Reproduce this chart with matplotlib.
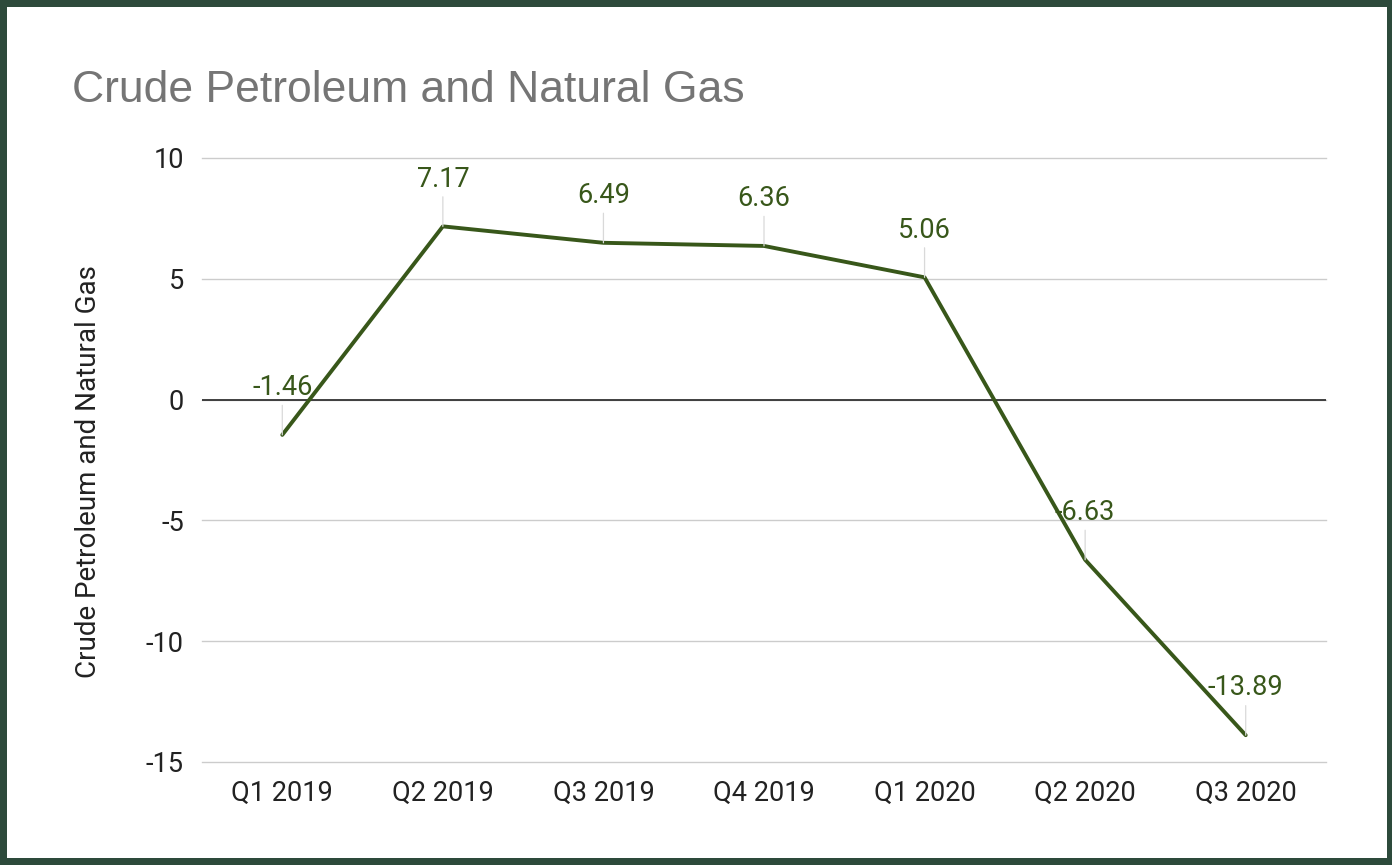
import matplotlib.pyplot as plt
from matplotlib.patches import Rectangle

quarters = ['Q1 2019', 'Q2 2019', 'Q3 2019', 'Q4 2019', 'Q1 2020', 'Q2 2020', 'Q3 2020']
values = [-1.46, 7.17, 6.49, 6.36, 5.06, -6.63, -13.89]
y_ticks = [-15, -10, -5, 0, 5, 10]

GREEN = '#38571a'
W, H = 1392, 865

fig = plt.figure(figsize=(W / 100, H / 100), dpi=100, facecolor='#2d4a3b')
# white card inside the dark green frame
fig.patches.append(Rectangle((7 / W, 7 / H), (W - 12) / W, (H - 14) / H,
                             transform=fig.transFigure, facecolor='white',
                             edgecolor='none', zorder=-5))

ax = fig.add_axes([202 / W, 103 / H, 1124 / W, 604 / H])
ax.set_facecolor('none')

x = list(range(len(quarters)))
ax.plot(x, values, color=GREEN, lw=2.8, solid_capstyle='round', zorder=4)

# data labels with thin leader lines
for xi, v in zip(x, values):
    ax.annotate(f'{v:.2f}', xy=(xi, v), xytext=(0, 34), textcoords='offset points',
                ha='center', va='center', fontsize=19.5, color=GREEN, family='Roboto',
                arrowprops=dict(arrowstyle='-', color='#d9d9d9', lw=0.9,
                                shrinkA=1, shrinkB=0),
                zorder=5)

ax.set_xlim(-0.5, len(quarters) - 0.5)
ax.set_ylim(-15, 10)
ax.set_yticks(y_ticks)
ax.set_yticklabels([str(t) for t in y_ticks])
ax.set_xticks(x)
ax.set_xticklabels(quarters)
ax.grid(axis='y', color='#cccccc', lw=1)
for gl in ax.get_ygridlines():
    gl.set_clip_on(False)
ax.axhline(0, color='#333333', lw=1.3, zorder=3)
for s in ax.spines.values():
    s.set_visible(False)
ax.tick_params(length=0, labelsize=19.5, labelcolor='#222222')
ax.tick_params(axis='y', pad=13)
ax.tick_params(axis='x', pad=13)
for lab in ax.get_xticklabels() + ax.get_yticklabels():
    lab.set_family('Roboto')

fig.text(72 / W, 1 - 90 / H, 'Crude Petroleum and Natural Gas', fontsize=32,
         color='#757575', family='Liberation Sans', ha='left', va='center')
fig.text(88 / W, 1 - 472 / H, 'Crude Petroleum and Natural Gas', rotation=90,
         fontsize=20, color='#222222', family='Roboto', ha='center', va='center')

fig.savefig('out.png', dpi=100, facecolor=fig.get_facecolor())
